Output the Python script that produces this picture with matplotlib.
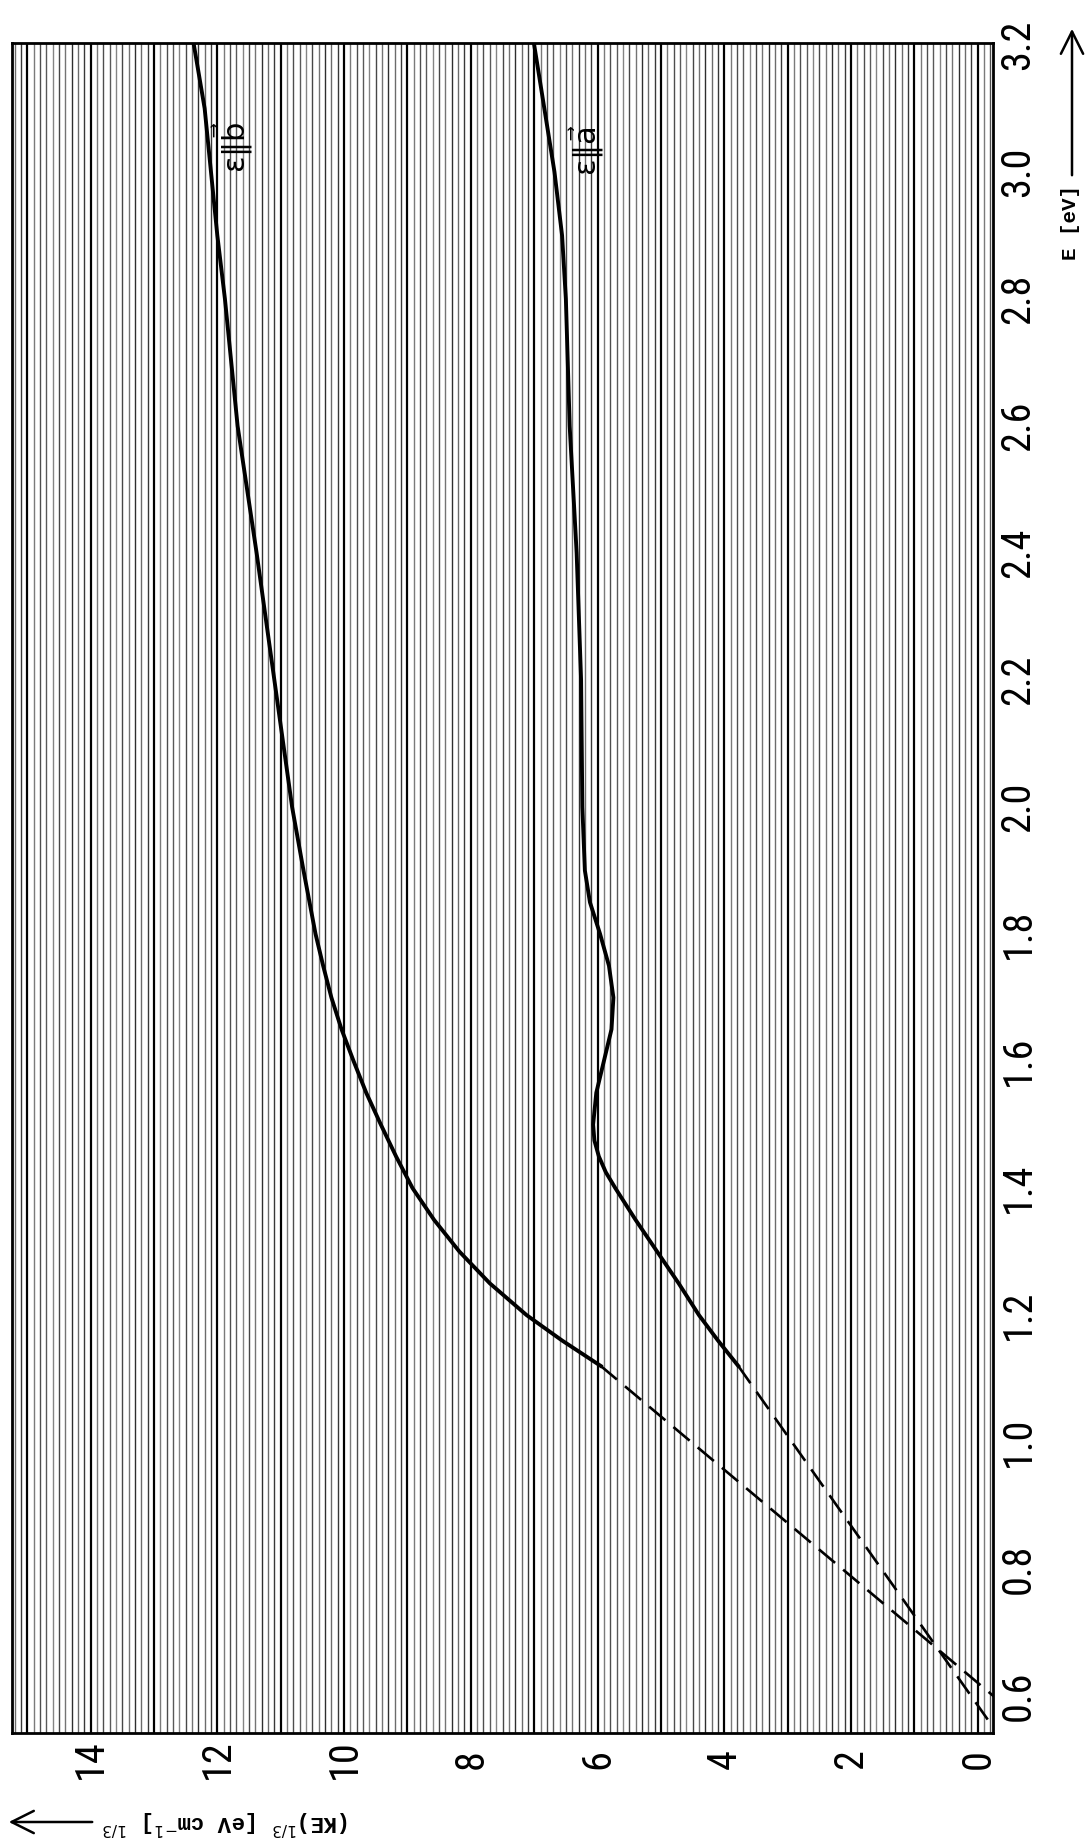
import numpy as np
import matplotlib
matplotlib.use("Agg")
import matplotlib.pyplot as plt
from matplotlib import font_manager
from matplotlib.patches import FancyArrowPatch

# (K*E)^(1/3) [eV cm^-1]^(1/3) against photon energy E [eV]
e_b = [3.2, 3.1, 3.0, 2.9, 2.8, 2.7, 2.6, 2.5, 2.4, 2.3, 2.2, 2.1, 2.0, 1.9,
       1.8, 1.75, 1.7, 1.65, 1.6, 1.55, 1.5, 1.45, 1.4, 1.35, 1.3, 1.25, 1.2,
       1.16, 1.12]
kE_b = [12.37, 12.2, 12.1, 12.0, 11.88, 11.78, 11.68, 11.53, 11.38, 11.24,
        11.1, 10.96, 10.82, 10.64, 10.45, 10.33, 10.2, 10.04, 9.85, 9.65,
        9.42, 9.18, 8.92, 8.58, 8.18, 7.7, 7.12, 6.56, 5.95]

e_a = [3.2, 3.1, 3.0, 2.9, 2.8, 2.7, 2.6, 2.4, 2.2, 2.0, 1.9, 1.85, 1.8,
       1.75, 1.7, 1.65, 1.6, 1.55, 1.5, 1.475, 1.45, 1.425, 1.4, 1.35, 1.3,
       1.25, 1.2, 1.16, 1.12]
kE_a = [7.0, 6.84, 6.68, 6.56, 6.5, 6.47, 6.44, 6.33, 6.26, 6.24, 6.2, 6.12,
        5.96, 5.82, 5.75, 5.78, 5.9, 6.02, 6.07, 6.05, 5.98, 5.87, 5.72, 5.4,
        5.06, 4.72, 4.4, 4.1, 3.78]

# dashed straight-line extrapolations down to the gap
e_b_ext = [1.12, 0.60]
kE_b_ext = [5.95, -0.25]
e_a_ext = [1.12, 0.55]
kE_a_ext = [3.78, -0.25]

e_ticks = [0.6, 0.8, 1.0, 1.2, 1.4, 1.6, 1.8, 2.0, 2.2, 2.4, 2.6, 2.8, 3.0, 3.2]
e_tick_labels = ["0.6", "0.8", "1.0", "1.2", "1.4", "1.6", "1.8", "2.0",
                 "2.2", "2.4", "2.6", "2.8", "3.0", "3.2"]
kE_ticks = [0, 2, 4, 6, 8, 10, 12, 14]
kE_tick_labels = ["0", "2", "4", "6", "8", "10", "12", "14"]

W, H = 1092, 1845

# a narrow face for the tick numbers if one is around
fonts = font_manager.fontManager.ttflist
names = {f.name for f in fonts}
tick_kw = dict(family="Liberation Sans", fontsize=25)
for nm in ["Liberation Sans Narrow", "Roboto Condensed", "Open Sans Condensed"]:
    if nm in names:
        tick_kw = dict(family=nm, fontsize=29)
        break
else:
    narrow = [f for f in fonts if f.stretch in ("condensed", "semi-condensed")
              and f.style == "normal" and "Mono" not in f.name]
    if narrow:
        tick_kw = dict(family=narrow[0].name, fontstretch=narrow[0].stretch,
                       fontsize=28)
mono = ["Liberation Mono", "DejaVu Sans Mono"]

fig = plt.figure(figsize=(W / 100, H / 100), dpi=100)
# the page is turned: energy runs upwards, (KE)^1/3 grows to the left
ax = fig.add_axes([12 / W, 1 - 1733 / H, (993 - 12) / W, (1733 - 43) / H])
ax.set_xlim(15.24, -0.24)
ax.set_ylim(0.542, 3.203)

# graph paper rulings (lines of constant (KE)^1/3)
grid = np.round(np.arange(-0.2, 15.3, 0.1), 1)
major = [g for g in grid if abs(g - round(g)) < 1e-6]
minor = [g for g in grid if abs(g - round(g)) > 1e-6]
shades = ["0.30", "0.48", "0.22", "0.42", "0.18", "0.45", "0.28", "0.52", "0.35"]
for i, x in enumerate(minor):
    ax.axvline(x, color=shades[i % len(shades)], lw=1.0, zorder=1)
for x in major:
    ax.axvline(x, color="black", lw=1.6, zorder=1)

ax.plot(kE_b, e_b, color="black", lw=2.8, solid_joinstyle="round", zorder=3)
ax.plot(kE_a, e_a, color="black", lw=2.8, solid_joinstyle="round", zorder=3)
ax.plot(kE_b_ext, e_b_ext, color="black", lw=1.9, dashes=(8, 4), zorder=3)
ax.plot(kE_a_ext, e_a_ext, color="black", lw=1.9, dashes=(8, 4), zorder=3)

ax.text(11.75, 3.04, r"$\mathrm{\varepsilon}\|\vec{\mathrm{b}}$", rotation=90,
        fontsize=22, ha="center", va="center", zorder=4)
ax.text(6.17, 3.035, r"$\mathrm{\varepsilon}\|\vec{\mathrm{a}}$", rotation=90,
        fontsize=22, ha="center", va="center", zorder=4)

ax.set_xticks(kE_ticks)
ax.set_xticklabels(kE_tick_labels, rotation=90, va="center", ha="center", **tick_kw)
ax.tick_params(axis="x", length=0, pad=19)
ax.yaxis.tick_right()
ax.set_yticks(e_ticks)
ax.set_yticklabels(e_tick_labels, rotation=90, va="center", ha="center", **tick_kw)
ax.tick_params(axis="y", length=0, pad=18)
for s in ax.spines.values():
    s.set_linewidth(2)

# axis titles, turned with the page
fig.text(226 / W, 1 - 1822 / H, r"(KE)$^{1/3}$ [eV cm$^{-1}$] $^{1/3}$",
         rotation=180, ha="center", va="center", family=mono, weight="bold",
         fontsize=16)
fig.text(1070 / W, 1 - 222 / H, "E [eV]", rotation=90, ha="center", va="center",
         family=mono, weight="bold", fontsize=15)
fig.add_artist(FancyArrowPatch(
    (95 / W, 1 - 1822 / H), (6 / W, 1 - 1822 / H), transform=fig.transFigure,
    arrowstyle="->", mutation_scale=40, lw=1.8, color="black"))
fig.add_artist(FancyArrowPatch(
    (1072 / W, 1 - 178 / H), (1072 / W, 1 - 26 / H), transform=fig.transFigure,
    arrowstyle="->", mutation_scale=40, lw=1.8, color="black"))

fig.savefig("out.png", dpi=100)
